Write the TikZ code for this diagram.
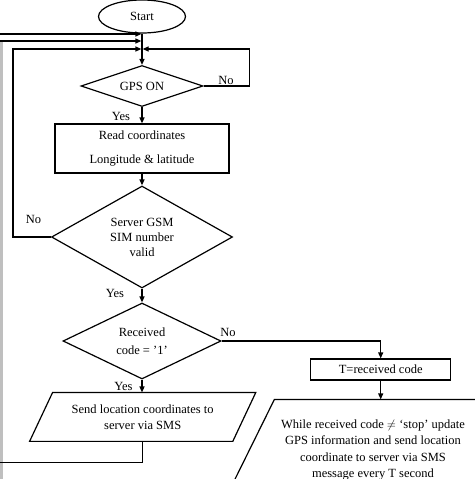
\documentclass[tikz,border=0pt]{standalone}
\usepackage{fontspec}
\setmainfont{Liberation Serif}
\usetikzlibrary{shapes.geometric,arrows.meta}
\begin{document}
\begin{tikzpicture}[x=1pt,y=-1pt,
  font=\fontsize{12.5}{15}\selectfont,
  line width=1.2pt,
  arr/.style={-{Triangle[length=6pt,width=5pt]}},
  dia/.style={diamond, draw, inner sep=0pt, align=center},
  box/.style={rectangle, draw, align=center, inner sep=0pt},
  lbl/.style={inner sep=0pt, align=center}]
\useasboundingbox (0,0) rectangle (474,479);

% nodes
\node[ellipse, draw, minimum width=87pt, minimum height=33pt, inner sep=0pt] (start) at (142,16.5) {Start};
\node[dia, aspect=3, minimum width=122pt, minimum height=41pt] (gps) at (142,86) {GPS ON};
\node[box, minimum width=174pt, minimum height=49pt] (read) at (142,148.5) {Read coordinates\\[9pt]Longitude \& latitude};
\node[dia, aspect=1.77, minimum width=181pt, minimum height=102pt] (srv) at (142,237) {Server GSM\\SIM number\\valid};
\node[dia, aspect=2.1, minimum width=158pt, minimum height=76pt] (rcv) at (142,341) {Received\\[3pt]code = ’1’};
\node[box, minimum width=140pt, minimum height=21pt] (T) at (380.7,369.5) {T=received code};

\node[lbl, minimum width=202pt, minimum height=47.7pt] (send) at (142.7,416.9) {Send location coordinates to\\[1pt]server via SMS};
\draw ([xshift=11.5pt]send.north west) -- ([xshift=11.5pt]send.north east) -- ([xshift=-11.5pt]send.south east) -- ([xshift=-11.5pt]send.south west) -- cycle;

\node[lbl, minimum width=246pt, minimum height=100pt, font=\fontsize{12.5}{16.5}\selectfont] (loop) at (373,450) {While received code $\neq$ ‘stop’ update\\GPS information and send location\\coordinate to server via SMS\\message every T second};
\draw ([xshift=25pt]loop.north west) -- ([xshift=25pt]loop.north east) -- ([xshift=-25pt]loop.south east) -- ([xshift=-25pt]loop.south west) -- cycle;

% labels
\node[lbl] (no1) at (226,80) {No};
\node[lbl] (yes1) at (121,116) {Yes};
\node[lbl] (no2) at (33.5,219) {No};
\node[lbl] (yes2) at (115,293) {Yes};
\node[lbl] (no3) at (228,332) {No};
\node[lbl] (yes3) at (123.5,386) {Yes};

% junction coordinates
\coordinate (j1) at (141.4,34);
\coordinate (j2) at (141.4,41);
\coordinate (j3) at (141.4,49);
\coordinate (j3r) at (142.6,49);
\coordinate (e1) at (0,34);
\coordinate (e2) at (0,41);
\coordinate (e3) at (0,462.5);
\coordinate (g1) at (1.5,42);
\coordinate (g2) at (1.5,479);

% connectors
\draw[arr] (start.south) -- (gps.north);
\draw[arr] (gps.south) -- (read.north);
\draw[arr] (read.south) -- (srv.north);
\draw[arr] (srv.south) -- (rcv.north);
\draw[arr] (rcv.south) -- (rcv.south |- send.north);
\draw[arr] (rcv.east) -| (T.north);
\draw[arr] (T.south) -- (T.south |- loop.north);
\draw[arr] (gps.east) -- ++(46,0) |- (j3r);
\draw[arr] (srv.west) -- ++(-38,0) |- (j3);
\draw[arr] (e1) -- (j1);
\draw[arr] (e2) -- (j2);
\draw[gray!50, line width=3pt] (g1) -- (g2);
\draw (send.south) |- (e3);
\end{tikzpicture}
\end{document}
